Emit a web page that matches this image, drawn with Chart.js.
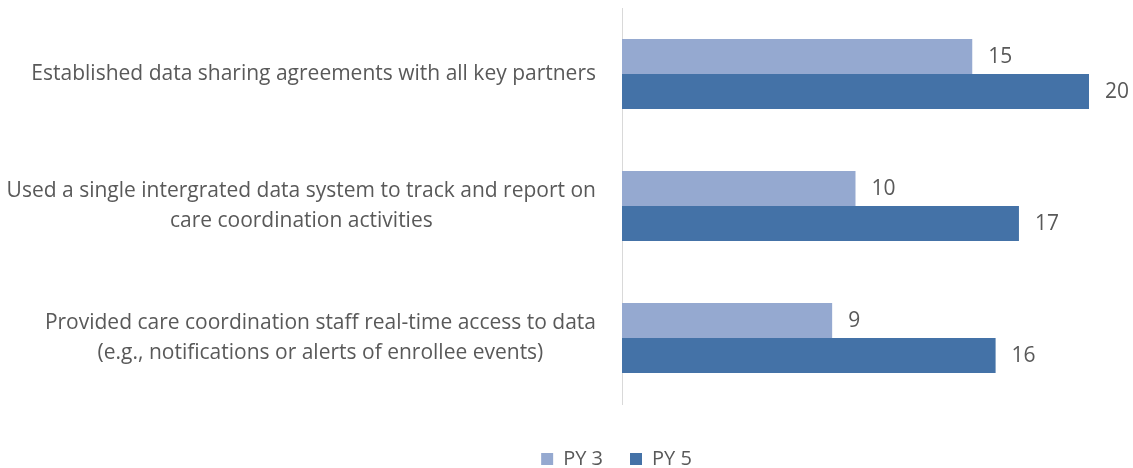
<!DOCTYPE html>
<html>
<head>
<meta charset="utf-8">
<script src="https://cdn.jsdelivr.net/npm/chart.js@4.4.0/dist/chart.umd.min.js"></script>
<style>
  html, body { margin: 0; padding: 0; background: #fff; }
  #wrap { width: 1133px; height: 468px; }
</style>
</head>
<body>
<div id="wrap"><canvas id="myChart"></canvas></div>
<script>
var categories = [
    ["Established data sharing agreements with all key partners"],
    ["Used a single intergrated data system to track and report on", "care coordination activities"],
    ["Provided care coordination staff real-time access to data", "(e.g., notifications or alerts of enrollee events)"]
];
var py3 = [15, 10, 9];
var py5 = [20, 17, 16];

var FONT = "'Open Sans', sans-serif";
var TEXT = "#595959";

// category labels: right edge near the axis, lines centred on each other
var catLabels = {
    id: "catLabels",
    afterDraw: function(chart) {
        var ctx = chart.ctx;
        var y = chart.scales.y;
        ctx.save();
        ctx.font = "21px " + FONT;
        ctx.fillStyle = TEXT;
        ctx.textAlign = "center";
        ctx.textBaseline = "middle";
        var lh = 30;
        categories.forEach(function(lines, i) {
            var w = 0;
            lines.forEach(function(l) { w = Math.max(w, ctx.measureText(l).width); });
            var cx = chart.chartArea.left - 26 - w / 2;
            var cy = y.getPixelForValue(i);
            var top = cy - (lines.length - 1) * lh / 2;
            lines.forEach(function(l, k) { ctx.fillText(l, cx, top + k * lh); });
        });
        ctx.restore();
    }
};

// value labels at end of bars
var valueLabels = {
    id: "valueLabels",
    afterDatasetsDraw: function(chart) {
        var ctx = chart.ctx;
        ctx.save();
        ctx.font = "21px " + FONT;
        ctx.fillStyle = TEXT;
        ctx.textAlign = "left";
        ctx.textBaseline = "middle";
        chart.data.datasets.forEach(function(ds, di) {
            chart.getDatasetMeta(di).data.forEach(function(bar, i) {
                ctx.fillText(ds.data[i], bar.x + 16, bar.y + 1);
            });
        });
        ctx.restore();
    }
};

var ctx = document.getElementById("myChart");
var chart = new Chart(ctx, {
    type: "bar",
    data: {
        labels: categories.map(function(c) { return c.join(" "); }),
        datasets: [{
            label: "PY 3",
            data: py3,
            backgroundColor: "#95a9d0"
        }, {
            label: "PY 5",
            data: py5,
            backgroundColor: "#4472a7"
        }]
    },
    options: {
        indexAxis: "y",
        responsive: true,
        maintainAspectRatio: false,
        animation: false,
        layout: { padding: { top: 8, right: 44, left: 144, bottom: -11 } },
        datasets: { bar: { categoryPercentage: 0.53, barPercentage: 1.0 } },
        scales: {
            x: {
                min: 0,
                max: 20,
                grid: { display: false },
                border: { display: false },
                ticks: { display: false },
                afterFit: function(s) { s.height = 18; }
            },
            y: {
                grid: { display: false },
                border: { display: true, color: "#d9d9d9", width: 1 },
                ticks: { display: false },
                afterFit: function(s) { s.width = 478; }
            }
        },
        plugins: {
            legend: {
                position: "bottom",
                labels: {
                    font: { family: FONT, size: 20 },
                    color: TEXT,
                    boxWidth: 12,
                    boxHeight: 12,
                    padding: 27
                }
            },
            tooltip: { enabled: false }
        }
    },
    plugins: [catLabels, valueLabels]
});
</script>
</body>
</html>
